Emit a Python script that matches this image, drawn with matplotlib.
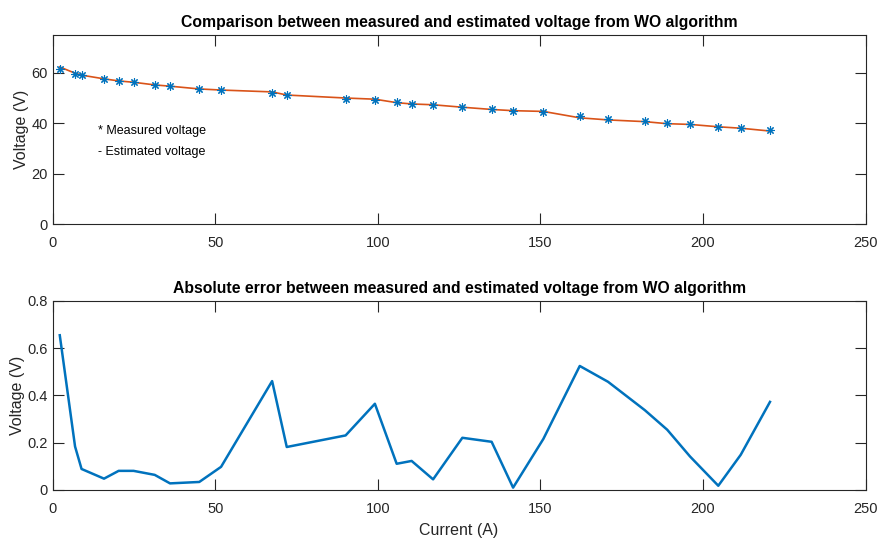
import matplotlib
matplotlib.use("Agg")
import matplotlib.pyplot as plt
import numpy as np

plt.rcParams['font.family'] = ['Liberation Sans', 'DejaVu Sans']

current = [2.2, 6.9, 8.9, 15.8, 20.3, 24.9, 31.4, 36.1, 45.1, 51.8, 67.5, 72.0,
           90.1, 99.1, 105.8, 110.4, 117.0, 126.0, 135.0, 141.6, 150.9, 162.1,
           170.8, 182.1, 189.0, 196.0, 204.7, 211.6, 220.6]
measured = [61.70, 59.70, 59.20, 57.60, 56.90, 56.20, 55.30, 54.70, 53.60, 53.10,
            52.00, 51.40, 49.80, 49.20, 48.30, 47.80, 47.40, 46.60, 45.70, 45.00,
            44.50, 42.70, 41.80, 41.00, 40.10, 39.70, 38.60, 38.20, 37.30]
estimated = [62.355, 59.884, 59.111, 57.648, 56.819, 56.281, 55.236, 54.728, 53.634, 53.198,
             52.461, 51.218, 50.031, 49.565, 48.189, 47.677, 47.355, 46.379, 45.496, 45.010,
             44.716, 42.175, 41.342, 40.662, 39.845, 39.558, 38.618, 38.051, 36.927]

error = np.abs(np.array(measured) - np.array(estimated))

blue = '#0072BD'
orange = '#D95319'
axcol = '#262626'

fig = plt.figure(figsize=(8.77, 5.40), dpi=100)
ax1 = fig.add_axes([0.060, 0.585, 0.927, 0.350])
ax2 = fig.add_axes([0.060, 0.0926, 0.927, 0.350])

ax1.plot(current, estimated, '-', color=orange, lw=1.2, zorder=2)
ax1.plot(current, measured, linestyle='none', marker=(8, 2, 0), markersize=6,
         markeredgewidth=0.8, color=blue, zorder=3)
ax1.set_xlim(0, 250)
ax1.set_ylim(0, 75)
ax1.set_yticks([0, 20, 40, 60])
ax1.set_xticks([0, 50, 100, 150, 200, 250])
ax1.set_ylabel('Voltage (V)', fontsize=11.5, color=axcol, labelpad=2)
ax1.set_title('Comparison between measured and estimated voltage from WO algorithm',
              fontsize=11.3, fontweight='bold', pad=6)
ax1.text(14, 37, '* Measured voltage', fontsize=9, color='black', va='center')
ax1.text(14, 28.5, '- Estimated voltage', fontsize=9, color='black', va='center')

ax2.plot(current, error, '-', color=blue, lw=1.8)
ax2.set_xlim(0, 250)
ax2.set_ylim(0, 0.8)
ax2.set_yticks([0, 0.2, 0.4, 0.6, 0.8])
ax2.set_yticklabels(['0', '0.2', '0.4', '0.6', '0.8'])
ax2.set_xticks([0, 50, 100, 150, 200, 250])
ax2.set_ylabel('Voltage (V)', fontsize=11.5, color=axcol, labelpad=2)
ax2.set_xlabel('Current (A)', fontsize=11.5, color=axcol, labelpad=5)
ax2.set_title('Absolute error between measured and estimated voltage from WO algorithm',
              fontsize=11.3, fontweight='bold', pad=6)

for ax in (ax1, ax2):
    for s in ax.spines.values():
        s.set_color(axcol)
        s.set_linewidth(0.8)
    ax.tick_params(direction='in', length=8, width=0.8, colors=axcol,
                   labelsize=10.5, top=True, right=True, labelcolor=axcol)
    ax.tick_params(axis='x', pad=8.5)

fig.savefig('out.png', dpi=100)
